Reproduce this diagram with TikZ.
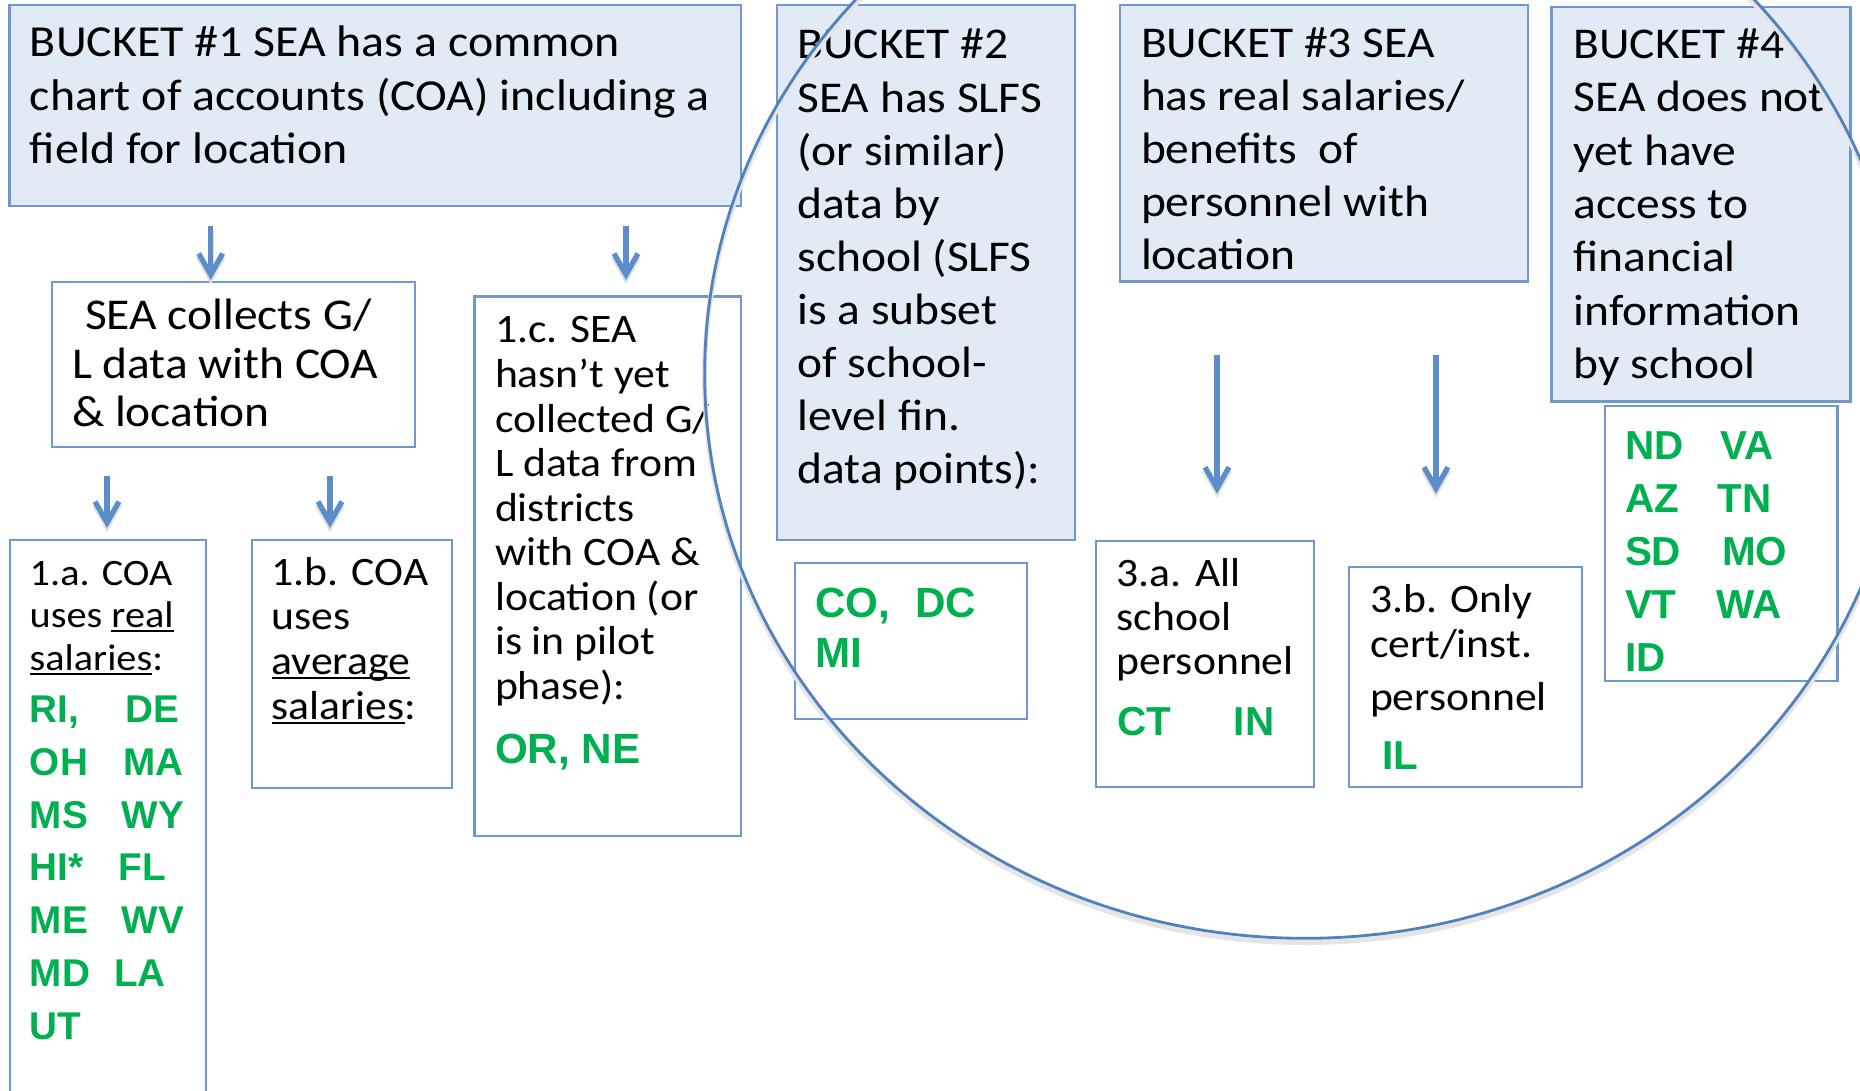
\documentclass[tikz,border=0pt]{standalone}
\usepackage{fontspec}
\setmainfont{Carlito}[FakeStretch=1.08]
\newfontfamily\grnfont{Liberation Sans}
\usetikzlibrary{arrows.meta,fit}
\definecolor{bord}{RGB}{110,152,206}
\definecolor{bfill}{RGB}{226,234,245}
\definecolor{arrc}{RGB}{90,141,201}
\definecolor{circc}{RGB}{79,129,189}
\definecolor{grn}{RGB}{0,176,80}
\newcommand\fsz[2]{\fontsize{#1}{#2}\selectfont}
\newcommand\col[2]{\makebox[#1][l]{#2}}
\newcommand\uln[1]{\leavevmode\setbox0\hbox{#1}\rlap{\rule[-0.12em]{\wd0}{0.055em}}\box0}
\begin{document}
\begin{tikzpicture}[x=0.01cm,y=-0.01cm,
  box/.style={draw=bord,line width=0.6pt,inner sep=0pt,outer sep=0pt},
  bucket/.style={box,fill=bfill},
  txt/.style={anchor=base west,inner sep=0pt,outer sep=0pt},
  gtxt/.style={txt,text=grn,font=\grnfont\bfseries},
  arr/.style={draw=arrc,line width=1.5pt,-{Straight Barb[length=6pt,width=6.8pt]},
    preaction={draw=black!12,line width=1.8pt,transform canvas={yshift=-1.2pt}}},
  circ/.style={draw=circc,line width=0.8pt,
    preaction={draw=black!10,line width=1.4pt,transform canvas={yshift=-1.2pt}}}]
\useasboundingbox (0,0) rectangle (1860,1091);
\clip (0,0) rectangle (1860,1091);
\fill[white] (0,0) rectangle (1860,1091);

% boxes
\node[bucket, fit={(9.5,4.7) (741,206)}] (b1) {};
\node[box, fit={(52,282) (415,447)}] (col) {};
\node[box, fit={(10,540) (206,1110)}] (b1a) {};
\node[box, fit={(252,540) (452,788)}] (b1b) {};
\node[box, fit={(474.5,296.5) (741,836)}] (b1c) {};
\node[bucket, fit={(777,5) (1075,540)}] (b2) {};
\node[box, fit={(795,563) (1027,719)}] (b2s) {};
\node[bucket, fit={(1120,5) (1528,281.5)}] (b3) {};
\node[box, fit={(1096,541) (1314,787)}] (b3a) {};
\node[box, fit={(1349,567) (1582,787)}] (b3b) {};
\node[bucket, fit={(1551.5,7) (1850.5,401.5)}] (b4) {};
\node[box, fit={(1605,406) (1837.5,681)}] (b4s) {};

% texts
\node[txt] (b1t) at (30,57) {\parbox[t]{7.2cm}{\raggedright\fsz{12.6pt}{15.08pt}BUCKET \#1 SEA has a common\\chart of accounts (COA) including a\\field for location}};
\node[txt] (colt) at (72,330) {\parbox[t]{3.5cm}{\raggedright\fsz{12.5pt}{13.66pt}\hspace*{0.13cm}SEA collects G/\\L data with COA\\\& location}};
\node[txt] (b1at) at (29.7,585) {\parbox[t]{1.8cm}{\raggedright\fsz{10.6pt}{12.12pt}1.a. COA\\uses \uln{real}\\\uln{salaries}:}};
\node[txt] (b1bt) at (271.6,585) {\parbox[t]{1.8cm}{\raggedright\fsz{11.5pt}{12.72pt}1.b. COA\\uses\\\uln{average}\\\uln{salaries}:}};
\node[txt] (b1ct) at (495,343) {\parbox[t]{2.5cm}{\raggedright\fsz{11.5pt}{12.66pt}1.c. SEA\\hasn’t yet\\collected G/\\L data from\\districts\\with COA \&\\location (or\\is in pilot\\phase):}};
\node[txt] (b2t) at (797.5,59) {\parbox[t]{2.8cm}{\raggedright\fsz{12.5pt}{15.08pt}BUCKET \#2\\SEA has SLFS\\(or similar)\\data by\\school (SLFS\\is a subset\\of school-\\level fin.\\data points):}};
\node[txt] (b3t) at (1141,57.4) {\parbox[t]{3.8cm}{\raggedright\fsz{12.5pt}{15.08pt}BUCKET \#3 SEA\\has real salaries/\\benefits\ \ of\\personnel with\\location}};
\node[txt] (b4t) at (1573.5,58.4) {\parbox[t]{2.8cm}{\raggedright\fsz{12.5pt}{15.18pt}BUCKET \#4\\SEA does not\\yet have\\access to\\financial\\information\\by school}};
\node[txt] (b3at) at (1116.8,586.7) {\parbox[t]{2cm}{\raggedright\fsz{11.5pt}{12.46pt}3.a. All\\school\\personnel}};
\node[txt] (b3bt) at (1370,612.8) {\parbox[t]{2.2cm}{\raggedright\fsz{11.5pt}{12.58pt}3.b. Only\\cert/inst.\\[0.088cm]personnel}};

% green state lists
\node[gtxt] (g1a) at (30,722.6) {\parbox[t]{1.8cm}{\raggedright\fsz{11pt}{15pt}\col{0.957cm}{RI,}DE\\\col{0.93cm}{OH}MA\\\col{0.916cm}{MS}WY\\\col{0.886cm}{HI*}FL\\\col{0.916cm}{ME}WV\\\col{0.84cm}{MD}LA\\UT}};
\node[gtxt] (g1c) at (495,763) {\fsz{12pt}{14pt}OR, NE};
\node[gtxt] (g2) at (815,617) {\parbox[t]{2cm}{\raggedright\fsz{12pt}{14.23pt}\col{1cm}{CO,}DC\\MI}};
\node[gtxt] (g3a) at (1117,735.5) {\fsz{11.5pt}{14pt}\col{1.167cm}{CT}IN};
\node[gtxt] (g3b) at (1382,769.2) {\fsz{11.5pt}{14pt}IL};
\node[gtxt] (g4) at (1625,459) {\parbox[t]{2cm}{\raggedright\fsz{11.5pt}{15.14pt}\col{0.95cm}{ND}VA\\\col{0.926cm}{AZ}TN\\\col{0.97cm}{SD}MO\\\col{0.91cm}{VT}WA\\ID}};

% arrows
\coordinate (a1s) at (210.7,226); \coordinate (a1e) at (210.7,280);
\coordinate (a2s) at (626,226);   \coordinate (a2e) at (626,280);
\coordinate (a3s) at (107,475.5); \coordinate (a3e) at (107,528);
\coordinate (a4s) at (330,475.5); \coordinate (a4e) at (330,528);
\coordinate (a5s) at (1217,354.5); \coordinate (a5e) at (1217,493.6);
\coordinate (a6s) at (1436,354.5); \coordinate (a6e) at (1436,493.6);
\foreach \i in {1,...,6} {\draw[arr] (a\i s) -- (a\i e);}

% big ellipse
\draw[circ] (1305,374) ellipse [x radius=6cm, y radius=5.64cm];
\end{tikzpicture}
\end{document}
